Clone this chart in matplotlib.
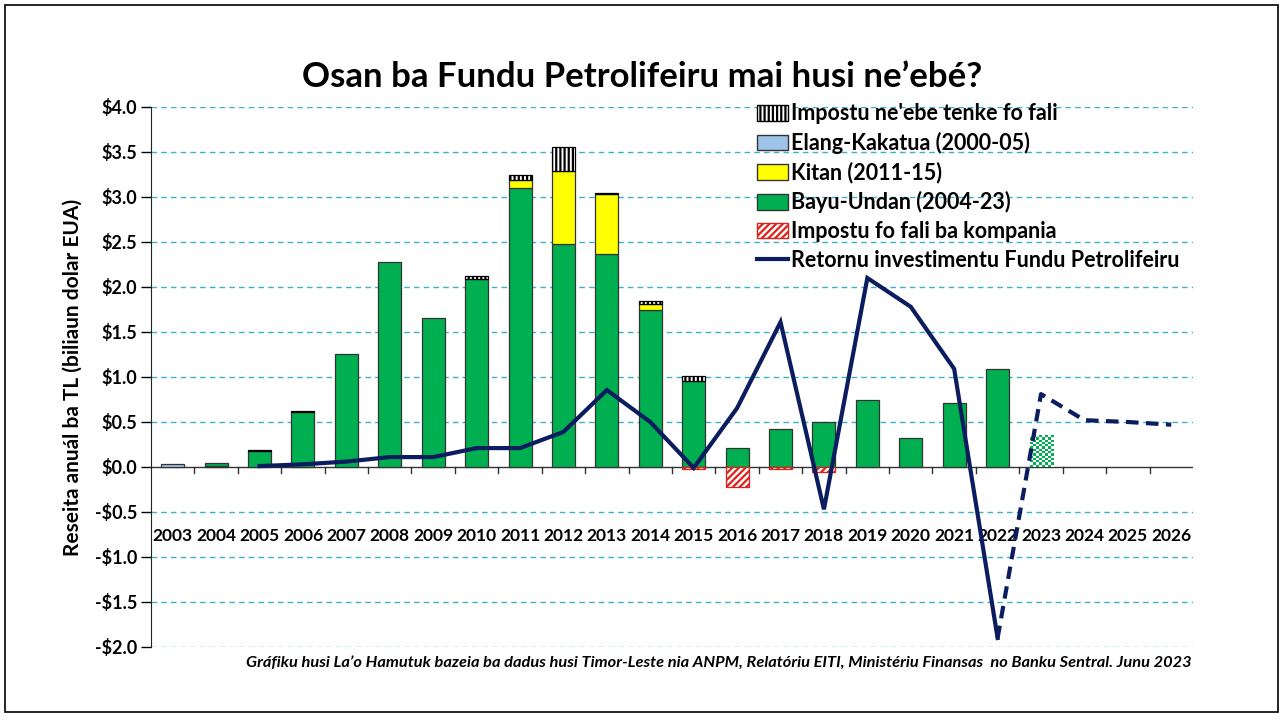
#!/usr/bin/env python3
"""Osan ba Fundu Petrolifeiru: annual petroleum receipts and fund returns, 2003-2026."""

import numpy as np
import matplotlib

matplotlib.use("Agg")
from matplotlib import pyplot as plt
from matplotlib.patches import Rectangle, Patch
from matplotlib.lines import Line2D

plt.rcParams["font.family"] = ["Lato", "DejaVu Sans"]
plt.rcParams["hatch.linewidth"] = 1.6

years = [str(y) for y in range(2003, 2027)]

# billions of USD
elang_kakatua = [0.03, 0.01, 0, 0, 0, 0, 0, 0, 0, 0, 0, 0, 0, 0, 0, 0, 0, 0, 0, 0, 0, 0, 0, 0]
bayu_undan = [0, 0.03, 0.18, 0.61, 1.25, 2.28, 1.65, 2.09, 3.10, 2.48, 2.37, 1.74, 0.96,
              0.215, 0.42, 0.50, 0.745, 0.32, 0.715, 1.085, 0, 0, 0, 0]
bayu_undan_2023 = 0.35
kitan = [0, 0, 0, 0, 0, 0, 0, 0, 0.09, 0.81, 0.66, 0.07, 0, 0, 0, 0, 0, 0, 0, 0, 0, 0, 0, 0]
tax_owed = [0, 0, 0.01, 0.01, 0, 0, 0, 0.03, 0.05, 0.26, 0.01, 0.03, 0.05,
            0, 0, 0, 0, 0, 0, 0, 0, 0, 0, 0]
tax_refund = [0, 0, 0, 0, 0, 0, 0, 0, 0, 0, 0, 0, -0.02, -0.22, -0.02, -0.06,
              0, 0, 0, 0, 0, 0, 0, 0]
return_years = years[2:20]
fund_return = [0.01, 0.03, 0.06, 0.11, 0.11, 0.21, 0.21, 0.39, 0.855, 0.50, -0.01,
               0.655, 1.61, -0.47, 2.10, 1.78, 1.09, -1.90]
forecast_years = years[19:]
forecast_return = [-1.90, 0.81, 0.52, 0.50, 0.47]

GREEN = "#00b050"
YELLOW = "#ffff00"
BLUE = "#9dc3e6"
NAVY = "#0b1d5e"
GRID = "#3ab3c8"

fig = plt.figure(figsize=(12.84, 7.2), dpi=100)
fig.patches.append(Rectangle((0.004, 0.011), 0.991, 0.982, transform=fig.transFigure,
                             fill=False, edgecolor="black", linewidth=1.2))
ax = fig.add_axes([0.1176, 0.1014, 0.8115, 0.75])

x = np.arange(len(years))
width = 0.53
edge = dict(edgecolor="#333333", linewidth=0.9)


def stacked(values, bottom, **kw):
    values = np.asarray(values, dtype=float)
    keep = values != 0
    ax.bar(x[keep], values[keep], width, bottom=np.asarray(bottom)[keep], zorder=3, **kw)


zero = np.zeros(len(years))
stacked(elang_kakatua, zero, color=BLUE, **edge)
base = np.array(elang_kakatua)
stacked(bayu_undan, base, color=GREEN, **edge)
base = base + np.array(bayu_undan)
stacked(kitan, base, color=YELLOW, **edge)
base = base + np.array(kitan)
stacked(tax_owed, base, facecolor="white", hatch="||||", edgecolor="black", linewidth=0.9)
stacked(tax_refund, zero, facecolor="white", hatch="/////", edgecolor="#e0201b", linewidth=0.9)

# 2023: checkered green (partial year)
i23 = years.index("2023")
(bar23,) = ax.bar(x[i23], bayu_undan_2023, width, facecolor="none", edgecolor="none", zorder=3)
checker = np.indices((int(bayu_undan_2023 * 40), 8)).sum(axis=0) % 2
img = ax.imshow(checker, cmap=matplotlib.colors.ListedColormap(["white", GREEN]),
                extent=(bar23.get_x(), bar23.get_x() + bar23.get_width(), 0, bayu_undan_2023),
                aspect="auto", interpolation="nearest", zorder=3)
img.set_clip_path(bar23)

ax.plot([years.index(y) for y in return_years], fund_return, color=NAVY, linewidth=3,
        zorder=4, solid_joinstyle="miter")
ax.plot([years.index(y) for y in forecast_years], forecast_return, color=NAVY, linewidth=3,
        linestyle=(0, (3, 1.8)), zorder=4)

ax.set_xlim(-0.5, len(years) - 0.5)
ax.set_ylim(-2.0, 4.0)
yt = np.arange(-2.0, 4.01, 0.5)
ax.set_yticks(yt)
ax.set_yticklabels([f"-${abs(v):.1f}" if v < 0 else f"${v:.1f}" for v in yt],
                   fontsize=13, fontweight="bold")
for v in yt:
    if v != 0:
        ax.axhline(v, color=GRID, linewidth=1, linestyle=(0, (4, 3)), zorder=1)
ax.axhline(0, color="#333333", linewidth=1, zorder=2)
ax.tick_params(axis="y", direction="out", length=7, width=1, pad=3)
for s in ("top", "right", "bottom"):
    ax.spines[s].set_visible(False)
ax.spines["left"].set_color("#222222")

ax.set_xticks([])
for i in range(1, len(years)):
    ax.plot([i - 0.5, i - 0.5], [0, -0.07], color="#333333", linewidth=1, zorder=2)
for i, y in enumerate(years):
    ax.text(i, -0.77, y, ha="center", va="center", fontsize=12.5, fontweight="bold")

ax.set_ylabel("Reseita anuál ba TL (biliaun dolar EUA)", fontsize=15, fontweight="bold",
              labelpad=9)

fig.text(0.5, 0.893, "Osan ba Fundu Petrolifeiru mai husi ne’ebé?", ha="center", va="center",
         fontsize=25, fontweight="bold")
fig.text(0.928, 0.080,
         "Gráfiku husi La’o Hamutuk bazeia ba dadus husi Timor-Leste nia ANPM, Relatóriu EITI, "
         "Ministériu Finansas  no Banku Sentral. Junu 2023",
         ha="right", va="center", fontsize=11.8, fontstyle="italic", fontweight="bold")

handles = [
    Patch(facecolor="white", edgecolor="black", hatch="||||", label="Impostu ne'ebe tenke fo fali"),
    Patch(facecolor=BLUE, edgecolor="#333333", label="Elang-Kakatua (2000-05)"),
    Patch(facecolor=YELLOW, edgecolor="#333333", label="Kitan (2011-15)"),
    Patch(facecolor=GREEN, edgecolor="#333333", label="Bayu-Undan (2004-23)"),
    Patch(facecolor="white", edgecolor="#e0201b", hatch="/////", label="Impostu fo fali ba kompania"),
    Line2D([], [], color=NAVY, linewidth=3, label="Retornu investimentu Fundu Petrolifeiru"),
]
leg = ax.legend(handles=handles, loc="upper left", bbox_to_anchor=(0.582, 1.007), frameon=False,
                prop=dict(size=15.5, weight="bold"), handlelength=1.4, handleheight=0.75,
                handletextpad=0.15, labelspacing=0.36, borderaxespad=0, borderpad=0)

fig.savefig("out.png", dpi=100, facecolor="white")
